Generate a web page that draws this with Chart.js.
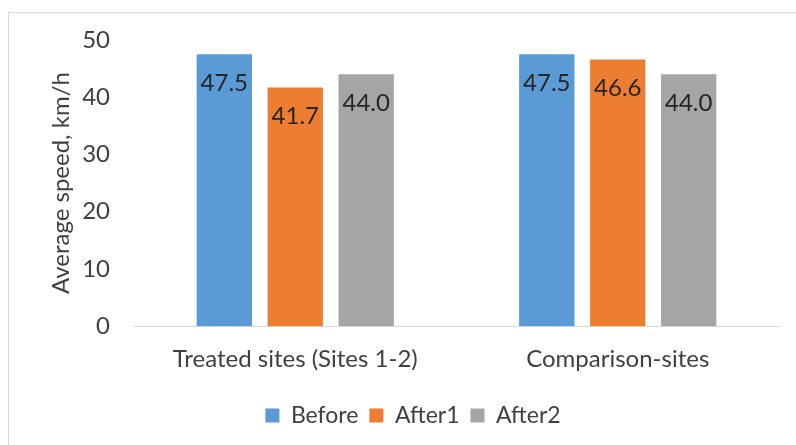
<!DOCTYPE html>
<html>
<head>
<meta charset="utf-8">
<script src="https://cdn.jsdelivr.net/npm/chart.js@4.4.1/dist/chart.umd.min.js"></script>
<style>
  html, body { margin: 0; padding: 0; background: #fff; overflow: hidden; }
  #box {
    position: absolute; left: 8px; top: 12px;
    width: 800px; height: 440px;
    border: 1px solid #d9d9d9;
  }
  #chart { position: absolute; left: 0; top: 0; }
</style>
</head>
<body>
<div id="box">
  <div style="position:absolute;left:0;top:0;width:787px;height:432px;">
    <canvas id="chart"></canvas>
  </div>
</div>
<script>
// datos
const categorias = ['Treated sites (Sites 1-2)', 'Comparison-sites'];
const antes = [47.5, 47.5];
const despues1 = [41.7, 46.6];
const despues2 = [44.0, 44.0];
const seriesNombres = ['Before', 'After1', 'After2'];
const ticksY = [0, 10, 20, 30, 40, 50];

const colores = ['#5B9BD5', '#ED7D31', '#A5A5A5'];
const fuente = 'Lato, "Open Sans", sans-serif';

// etiquetas de valor dentro de la barra, cerca del extremo
const etiquetasValor = {
    id: 'etiquetasValor',
    afterDatasetsDraw(chart) {
        const ctx = chart.ctx;
        ctx.save();
        ctx.font = '24px ' + fuente;
        ctx.fillStyle = '#262626';
        ctx.textAlign = 'center';
        ctx.textBaseline = 'middle';
        chart.data.datasets.forEach((ds, i) => {
            const meta = chart.getDatasetMeta(i);
            meta.data.forEach((bar, j) => {
                ctx.fillText(ds.data[j].toFixed(1), bar.x, bar.y + 29);
            });
        });
        ctx.restore();
    }
};

new Chart(document.getElementById('chart'), {
    type: 'bar',
    data: {
        labels: categorias,
        datasets: [
            { label: seriesNombres[0], data: antes, backgroundColor: colores[0] },
            { label: seriesNombres[1], data: despues1, backgroundColor: colores[1] },
            { label: seriesNombres[2], data: despues2, backgroundColor: colores[2] }
        ]
    },
    options: {
        responsive: true,
        maintainAspectRatio: false,
        animation: false,
        categoryPercentage: 0.66,
        barPercentage: 0.78,
        layout: { padding: { left: 38, right: 17, top: 27, bottom: 8 } },
        plugins: {
            tooltip: { enabled: false },
            legend: {
                position: 'bottom',
                labels: {
                    font: { family: fuente, size: 23 },
                    color: '#404040',
                    boxWidth: 14,
                    boxHeight: 14,
                    padding: 11
                }
            }
        },
        scales: {
            x: {
                grid: { display: false, drawTicks: false },
                border: { display: true, color: '#d9d9d9', width: 1 },
                ticks: {
                    font: { family: fuente, size: 24 },
                    color: '#404040',
                    padding: 19
                }
            },
            y: {
                min: 0,
                max: 50,
                afterBuildTicks: scale => {
                    scale.ticks = ticksY.map(v => ({ value: v }));
                },
                afterFit: scale => { scale.width = 87; },
                grid: { display: false, drawTicks: true, tickLength: 20 },
                border: { display: false },
                ticks: {
                    font: { family: fuente, size: 24 },
                    color: '#404040',
                    padding: 4
                },
                title: {
                    display: true,
                    text: 'Average speed, km/h',
                    font: { family: fuente, size: 24 },
                    color: '#404040',
                    padding: { top: 0, bottom: 0 }
                }
            }
        }
    },
    plugins: [etiquetasValor]
});
</script>
</body>
</html>
